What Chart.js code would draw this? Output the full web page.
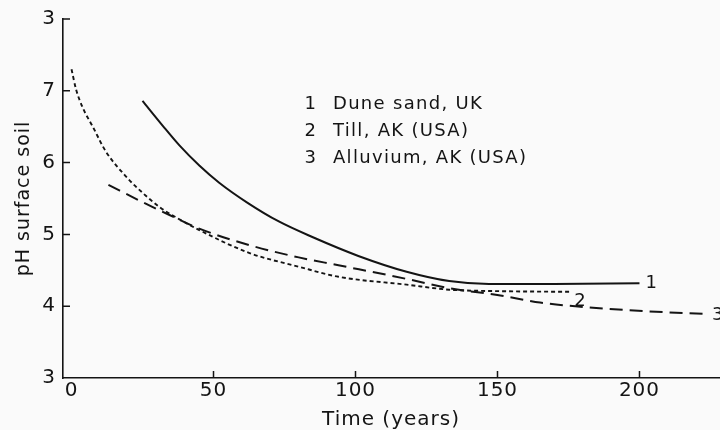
<!DOCTYPE html>
<html>
<head>
<meta charset="utf-8">
<script src="https://cdn.jsdelivr.net/npm/chart.js@4.4.1/dist/chart.umd.min.js"></script>
<style>
  html, body { margin: 0; padding: 0; background: #fafafa; }
  #wrap { width: 720px; height: 430px; }
</style>
</head>
<body>
<div id="wrap"><canvas id="phChart" width="720" height="430"></canvas></div>
<script>
// series names as printed in the figure key
const seriesNames = ['Dune sand, UK', 'Till, AK (USA)', 'Alluvium, AK (USA)'];
const seriesTags = ['1', '2', '3'];

// 1 - dune sand (solid)
const duneYears = [25, 32, 38, 45, 52, 62, 73, 85, 101, 118, 133, 147, 170, 200];
const dunePh = [6.86, 6.52, 6.24, 5.96, 5.72, 5.44, 5.18, 4.96, 4.70, 4.48, 4.35, 4.31, 4.31, 4.32];

// 2 - till (short dashes)
const tillYears = [0, 1.6, 4, 7.5, 12, 19.8, 25, 31, 38, 45, 62.7, 80, 94, 118, 133, 150, 176];
const tillPh = [7.30, 7.02, 6.76, 6.50, 6.16, 5.78, 5.58, 5.38, 5.21, 5.06, 4.74, 4.55, 4.41, 4.30, 4.23, 4.21, 4.20];

// 3 - alluvium (long dashes)
const alluviumYears = [13, 25, 34.5, 45, 62.7, 80, 94, 118, 133, 151, 165, 180, 202, 224.5];
const alluviumPh = [5.69, 5.45, 5.27, 5.08, 4.85, 4.68, 4.57, 4.38, 4.25, 4.15, 4.05, 3.99, 3.93, 3.89];

const xTicks = [0, 50, 100, 150, 200];
const yTicks = [3, 4, 5, 6, 7, 8];
const yTickLabels = ['3', '4', '5', '6', '7', '3'];

const ink = '#141414';

function toPoints(xs, ys) {
    return xs.map((x, i) => ({ x: x, y: ys[i] }));
}

// canvas resets its state on resize, so spacing is set again before layout/draw
const spacing = {
    id: 'spacing',
    beforeLayout(chart) { chart.ctx.letterSpacing = '1px'; },
    beforeDraw(chart) { chart.ctx.letterSpacing = '1px'; }
};

// tick marks point into the plot, like the printed figure
const inwardTicks = {
    id: 'inwardTicks',
    afterDatasetsDraw(chart) {
        const { ctx, chartArea, scales } = chart;
        ctx.save();
        ctx.strokeStyle = ink;
        ctx.lineWidth = 1.5;
        ctx.beginPath();
        scales.x.ticks.forEach(t => {
            if (t.value === 0) return;
            const px = scales.x.getPixelForValue(t.value);
            ctx.moveTo(px, chartArea.bottom);
            ctx.lineTo(px, chartArea.bottom - 7);
        });
        scales.y.ticks.forEach(t => {
            if (t.value === 3) return;
            const py = scales.y.getPixelForValue(t.value);
            ctx.moveTo(chartArea.left, py);
            ctx.lineTo(chartArea.left + 7, py);
        });
        ctx.stroke();
        ctx.restore();
    }
};

// numbered key and the numbers at the line ends
const keyAndTags = {
    id: 'keyAndTags',
    afterDraw(chart) {
        const ctx = chart.ctx;
        ctx.save();
        ctx.fillStyle = ink;
        ctx.letterSpacing = '1.3px';
        ctx.font = '18px "DejaVu Sans"';
        ctx.textBaseline = 'middle';
        seriesNames.forEach((name, i) => {
            const y = 104 + i * 27;
            ctx.textAlign = 'center';
            ctx.fillText(seriesTags[i], 311, y);
            ctx.textAlign = 'left';
            ctx.fillText(name, 333, y);
        });

        const tagShift = [[6, 0], [3, 9], [3, 1]];
        ctx.textAlign = 'left';
        chart.data.datasets.forEach((ds, i) => {
            const pts = chart.getDatasetMeta(i).data;
            const last = pts[pts.length - 1];
            ctx.fillText(ds.tag, last.x + tagShift[i][0], last.y + tagShift[i][1]);
        });
        ctx.restore();
    }
};

Chart.defaults.font.family = '"DejaVu Sans", sans-serif';
Chart.defaults.color = ink;

const phChart = new Chart(document.getElementById('phChart').getContext('2d'), {
    type: 'line',
    data: {
        datasets: [{
            label: seriesNames[0],
            tag: seriesTags[0],
            data: toPoints(duneYears, dunePh),
            borderColor: ink,
            borderWidth: 2,
            pointRadius: 0,
            cubicInterpolationMode: 'monotone',
            fill: false
        }, {
            label: seriesNames[1],
            tag: seriesTags[1],
            data: toPoints(tillYears, tillPh),
            borderColor: ink,
            borderWidth: 1.9,
            borderDash: [4, 3],
            pointRadius: 0,
            cubicInterpolationMode: 'monotone',
            fill: false
        }, {
            label: seriesNames[2],
            tag: seriesTags[2],
            data: toPoints(alluviumYears, alluviumPh),
            borderColor: ink,
            borderWidth: 2,
            borderDash: [13, 7],
            pointRadius: 0,
            cubicInterpolationMode: 'monotone',
            fill: false
        }]
    },
    options: {
        responsive: false,
        animation: false,
        layout: { padding: { top: 19, right: 1, left: 0, bottom: 0 } },
        plugins: {
            legend: { display: false },
            tooltip: { enabled: false }
        },
        scales: {
            x: {
                type: 'linear',
                min: -3,
                max: 228,
                afterBuildTicks: s => { s.ticks = xTicks.map(v => ({ value: v })); },
                afterFit: s => { s.height = 52; },
                grid: { display: false, drawTicks: false },
                border: { display: true, color: ink, width: 1.6 },
                ticks: { font: { size: 20 }, padding: 1, maxRotation: 0, autoSkip: false },
                title: {
                    display: true,
                    text: 'Time (years)',
                    font: { size: 20, lineHeight: 1 },
                    padding: { top: 0, bottom: 0 }
                }
            },
            y: {
                min: 3,
                max: 8,
                afterBuildTicks: s => { s.ticks = yTicks.map(v => ({ value: v })); },
                afterFit: s => { s.width = 63; },
                grid: { display: false, drawTicks: false },
                border: { display: true, color: ink, width: 1.6 },
                ticks: {
                    font: { size: 20 },
                    padding: 7,
                    autoSkip: false,
                    callback: (v, i) => yTickLabels[i]
                },
                title: {
                    display: true,
                    text: 'pH surface soil',
                    font: { size: 19, lineHeight: 1.2 },
                    padding: { top: 13, bottom: 0 }
                }
            }
        }
    },
    plugins: [spacing, inwardTicks, keyAndTags]
});
</script>
</body>
</html>
